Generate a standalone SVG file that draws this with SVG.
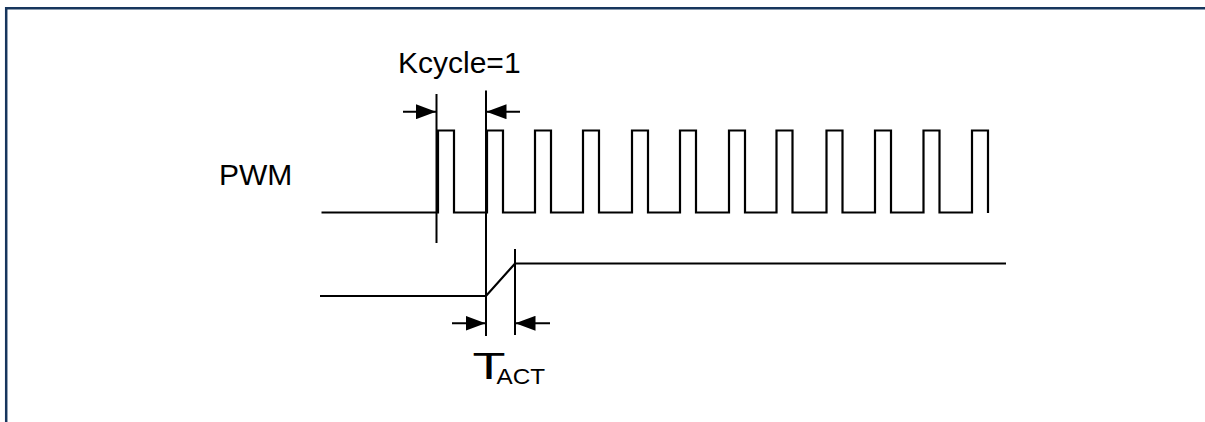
<svg xmlns="http://www.w3.org/2000/svg" width="1205" height="422" viewBox="0 0 1205 422">
<style>
.frame{fill:none;stroke:#17365d;stroke-width:2.5}
.w{fill:none;stroke:#000;stroke-width:2.2;stroke-linejoin:miter;stroke-linecap:butt}
.m{fill:none;stroke:#000;stroke-width:2}
.t{font-family:"Liberation Sans",Arial,sans-serif;fill:#000}
</style>
<defs>
<marker id="ah" viewBox="0 0 20 15" refX="20" refY="7.5" markerWidth="20" markerHeight="15" markerUnits="userSpaceOnUse" orient="auto">
<path d="M0,0 L20,7.5 L0,15 Z" fill="#000"/>
</marker>
</defs>
<rect width="1205" height="422" fill="#fff"/>
<path class="frame" d="M6.2,422 V8.3 H1205"/>
<g id="pwm-label"><text class="t" x="219" y="185" font-size="30">PWM</text></g>
<g id="kcycle-label"><text class="t" x="398" y="73" font-size="30">Kcycle=1</text></g>
<g id="tact-label">
<text class="t" x="472.5" y="379" font-size="36" textLength="33" lengthAdjust="spacingAndGlyphs">T</text>
<text class="t" x="496.5" y="384" font-size="22" textLength="48.5" lengthAdjust="spacingAndGlyphs">ACT</text>
</g>
<g id="pwm-signal">
<path class="w" d="M321.5,212.5 H438 V130.5 H454 V212.5 H487 V130.5 H503 V212.5 H535 V130.5 H551 V212.5 H583 V130.5 H599 V212.5 H632 V130.5 H648 V212.5 H680 V130.5 H696 V212.5 H729 V130.5 H745 V212.5 H776.5 V130.5 H792.5 V212.5 H826.5 V130.5 H842.5 V212.5 H875 V130.5 H891 V212.5 H923.5 V130.5 H939.5 V212.5 H972 V130.5 H988 V213"/>
</g>
<g id="output-signal">
<path class="w" d="M320,296 H486 L515,263.5 H1006"/>
</g>
<g id="connectors">
<line class="m" x1="436.5" y1="94" x2="436.5" y2="243"/>
<line class="m" x1="486" y1="90.5" x2="486" y2="336"/>
<line class="m" x1="515" y1="249" x2="515" y2="335"/>
<line class="m" x1="403" y1="111.7" x2="436" y2="111.7" marker-end="url(#ah)"/>
<line class="m" x1="520" y1="111.7" x2="486.5" y2="111.7" marker-end="url(#ah)"/>
<line class="m" x1="452" y1="323.3" x2="485.5" y2="323.3" marker-end="url(#ah)"/>
<line class="m" x1="550" y1="323.3" x2="515.5" y2="323.3" marker-end="url(#ah)"/>
</g>
</svg>
